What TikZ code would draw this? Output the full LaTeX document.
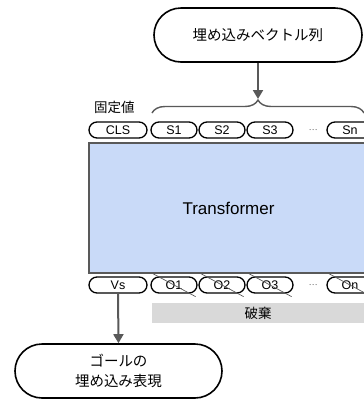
\documentclass[tikz,border=0pt]{standalone}
\usepackage{fontspec}
\setmainfont{Liberation Sans}
\newfontfamily\cjk{Noto Sans CJK JP}
\usetikzlibrary{arrows.meta,decorations.pathreplacing}
\definecolor{linegray}{HTML}{595959}
\definecolor{tfblue}{HTML}{C9DAF8}
\definecolor{discgray}{HTML}{D9D9D9}
\begin{document}
\begin{tikzpicture}[x=1pt,y=-1pt,
  bigpill/.style={draw=black, line width=1.6pt, rounded corners=27pt, minimum width=208pt, minimum height=54pt, inner sep=0pt, align=center, font=\cjk\fontsize{14.5}{20}\selectfont},
  tok/.style={draw=black, line width=1.3pt, rounded corners=8pt, minimum height=16pt, minimum width=46pt, inner sep=0pt, font=\fontsize{12.5}{13}\selectfont},
  wtok/.style={tok, minimum width=58pt},
  dots/.style={inner sep=0pt, text=linegray, font=\cjk\fontsize{8}{8}\selectfont},
  strike/.style={draw=linegray, line width=0.7pt},
  conn/.style={draw=linegray, line width=2pt, -{Triangle[length=9pt,width=10pt]}},
  lbl/.style={inner sep=0pt, font=\cjk\fontsize{13.5}{14}\selectfont}]
\useasboundingbox (0,0) rectangle (364,400);
\clip (0,0) rectangle (364,400);

% top input pill
\node[bigpill] (inp) at (258,35) {埋め込みベクトル列};

% brace
\draw[linegray, line width=1.4pt, decorate, decoration={brace, amplitude=13pt, aspect=0.5}] (152,113) -- (364,113) coordinate (braceR);
\coordinate (bracetip) at (258,99);
\draw[conn] (inp.south) -- (bracetip);

\node[lbl, anchor=south west] (fixed) at (94,114) {固定値};

% input tokens
\node[wtok] (cls) at (118,130) {CLS};
\node[tok] (s1) at (174,130) {S1};
\node[tok] (s2) at (222,130) {S2};
\node[tok] (s3) at (270,130) {S3};
\node[dots] (sdots) at (313,130) {…};
\node[tok] (sn) at (350,130) {Sn};

% transformer
\node[draw=linegray, line width=1.8pt, fill=tfblue, minimum width=279pt, minimum height=130pt, inner sep=0pt, font=\fontsize{17}{20}\selectfont] (tf) at (228.5,208) {Transformer};

% output tokens
\node[wtok] (vs) at (118,285) {Vs};
\node[tok] (o1) at (174,285) {O1};
\node[tok] (o2) at (222,285) {O2};
\node[tok] (o3) at (270,285) {O3};
\node[dots] (odots) at (313,285) {…};
\node[tok] (on) at (350,285) {On};
\foreach \n in {o1,o2,o3,on}{
  \draw[strike] ([shift={(2pt,3pt)}]\n.north west) -- ([shift={(-2pt,-3pt)}]\n.south east);
}

% discarded
\node[fill=discgray, minimum width=212pt, minimum height=20pt, inner sep=0pt, font=\cjk\fontsize{13.5}{14}\selectfont] (disc) at (258,313) {破棄};

% goal
\node[bigpill, minimum width=207pt] (goal) at (118.5,371) {ゴールの\\埋め込み表現};
\draw[conn] (vs.south) -- (goal.north);
\end{tikzpicture}
\end{document}
